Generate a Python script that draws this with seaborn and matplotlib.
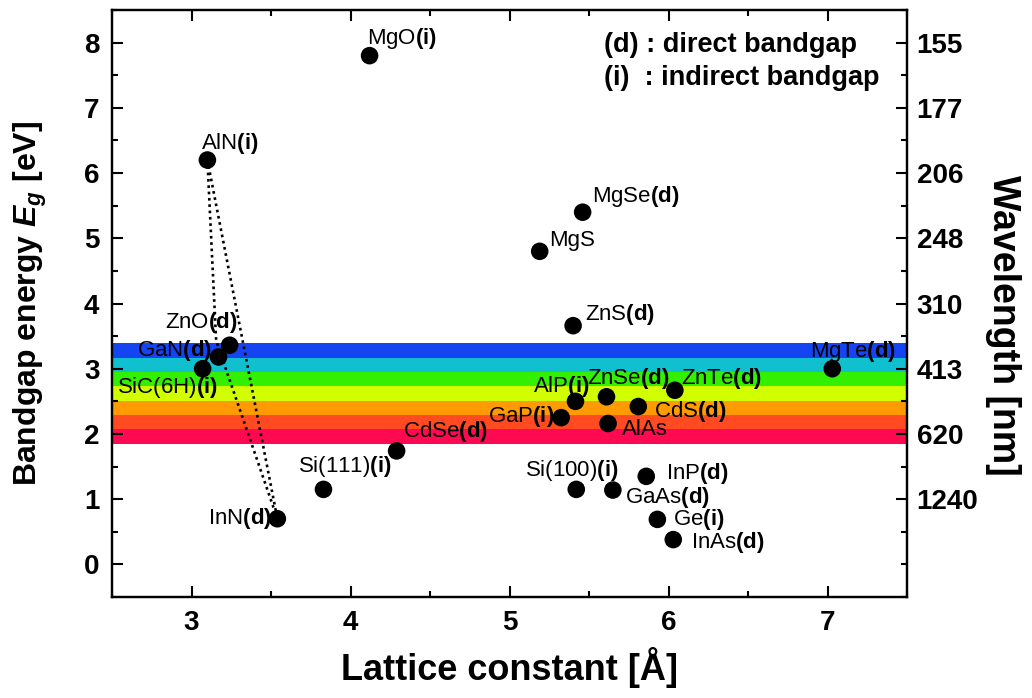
import numpy as np
import pandas as pd
import matplotlib
matplotlib.use("Agg")
import matplotlib.pyplot as plt
from matplotlib.ticker import MultipleLocator, FixedLocator
import seaborn as sns

# ---------------- data ----------------
materials = ["MgO", "AlN", "InN", "ZnO", "GaN", "SiC(6H)", "Si(111)", "CdSe",
             "MgS", "MgSe", "ZnS", "AlP", "ZnSe", "ZnTe", "CdS", "GaP", "AlAs",
             "MgTe", "Si(100)", "InP", "GaAs", "Ge", "InAs"]
gap_type = ["i", "i", "d", "d", "d", "i", "i", "d",
            "", "d", "d", "i", "d", "d", "d", "i", "",
            "d", "i", "d", "d", "i", "d"]
lattice = [4.12, 3.10, 3.54, 3.24, 3.17, 3.07, 3.83, 4.29,
           5.19, 5.46, 5.40, 5.415, 5.61, 6.04, 5.81, 5.325, 5.62,
           7.03, 5.42, 5.86, 5.65, 5.93, 6.03]
bandgap = [7.80, 6.20, 0.70, 3.36, 3.18, 3.00, 1.15, 1.74,
           4.80, 5.40, 3.66, 2.50, 2.57, 2.67, 2.42, 2.25, 2.16,
           3.00, 1.15, 1.35, 1.14, 0.69, 0.38]

# dotted tie lines (AlN -> InN)
tie_left_x = [3.10, 3.155, 3.54]
tie_left_y = [6.20, 3.43, 0.70]
tie_right_x = [3.10, 3.54]
tie_right_y = [6.20, 0.70]

# visible-spectrum colour bands (eV edges, top to bottom)
band_edges = [3.39, 3.17, 2.95, 2.73, 2.51, 2.29, 2.07, 1.85]
band_colors = ["#1545f2", "#10c0cf", "#33f000", "#d2ff00", "#ff9a00", "#ff4a22", "#ff0a52"]

# axis ticks
x_ticks = [3, 4, 5, 6, 7]
y_ticks = [0, 1, 2, 3, 4, 5, 6, 7, 8]
wl_energy = [1, 2, 3, 4, 5, 6, 7, 8]
wl_labels = ["1240", "620", "413", "310", "248", "206", "177", "155"]

# label offsets (points) and alignment, per material
label_off = {
    "MgO": (-1.5, 12, "left"), "AlN": (-4.8, 12, "left"), "InN": (-4, 0, "right"),
    "ZnO": (5.5, 16.5, "right"), "GaN": (-5, 4.8, "right"), "SiC(6H)": (11, -13.5, "right"),
    "Si(111)": (-18, 16.5, "left"), "CdSe": (4.3, 13.7, "left"), "MgS": (7, 8, "left"),
    "MgSe": (7, 11.5, "left"), "ZnS": (8.5, 8.4, "left"), "AlP": (10, 10.5, "right"),
    "ZnSe": (-14, 13, "left"), "ZnTe": (4.3, 8.4, "left"), "CdS": (11.5, -3.4, "left"),
    "GaP": (-5, 1, "right"), "AlAs": (9.8, -4.3, "left"), "MgTe": (-16, 12.7, "left"),
    "Si(100)": (-36.7, 13.7, "left"), "InP": (14.4, 2.4, "left"), "GaAs": (8.4, -5.2, "left"),
    "Ge": (11.3, 0, "left"), "InAs": (13, -2.4, "left"),
}

df = pd.DataFrame({"material": materials, "type": gap_type,
                   "lattice": lattice, "bandgap": bandgap})

# ---------------- style ----------------
sns.set_theme(style="ticks")
plt.rcParams["font.family"] = ["Liberation Sans", "DejaVu Sans"]
plt.rcParams["mathtext.fontset"] = "custom"
plt.rcParams["mathtext.rm"] = "Liberation Sans"
plt.rcParams["mathtext.bf"] = "Liberation Sans:bold"
plt.rcParams["mathtext.it"] = "Liberation Sans:italic:bold"
for k in ["text.color", "axes.labelcolor", "xtick.color", "ytick.color",
          "xtick.labelcolor", "ytick.labelcolor", "axes.edgecolor"]:
    plt.rcParams[k] = "black"

fig = plt.figure(figsize=(10.32, 6.98), dpi=100)
ax = fig.add_axes([112 / 1032, 1 - 597 / 698, 795 / 1032, 587 / 698])

# colour bands
for top, bot, c in zip(band_edges[:-1], band_edges[1:], band_colors):
    ax.axhspan(bot, top, color=c, lw=0, zorder=0)

# tie lines
ax.plot(tie_left_x, tie_left_y, color="black", lw=1.9, ls=(0, (1, 1.4)), zorder=2)
ax.plot(tie_right_x, tie_right_y, color="black", lw=1.9, ls=(0, (1, 1.4)), zorder=2)

sns.scatterplot(data=df, x="lattice", y="bandgap", ax=ax, color="black",
                s=160, edgecolor="none", zorder=3, legend=False)

for m, t, x, y in zip(materials, gap_type, lattice, bandgap):
    dx, dy, ha = label_off[m]
    txt = m + (r"$\mathbf{(" + t + ")}$" if t else "")
    ax.annotate(txt, (x, y), xytext=(dx, dy), textcoords="offset points",
                ha=ha, va="center", fontsize=16, color="black", zorder=4)

ax.text(0.619, 0.940, "(d) : direct bandgap", transform=ax.transAxes,
        fontsize=19.5, fontweight="bold", va="center", ha="left")
ax.text(0.619, 0.884, "(i)  : indirect bandgap", transform=ax.transAxes,
        fontsize=19.5, fontweight="bold", va="center", ha="left")

ax.set_xlim(2.5, 7.5)
ax.set_ylim(-0.5, 8.5)
ax.xaxis.set_major_locator(FixedLocator(x_ticks))
ax.yaxis.set_major_locator(FixedLocator(y_ticks))
ax.xaxis.set_minor_locator(MultipleLocator(0.5))
ax.yaxis.set_minor_locator(MultipleLocator(0.5))
ax.tick_params(which="both", direction="in", top=True, right=False, width=1.5, color="black")
ax.tick_params(which="major", length=8)
ax.tick_params(which="minor", length=4.5)
ax.tick_params(axis="y", which="major", pad=9, labelsize=20)
ax.tick_params(axis="x", which="major", pad=9, labelsize=20)
for lab in ax.get_xticklabels() + ax.get_yticklabels():
    lab.set_fontweight("bold")
for sp in ax.spines.values():
    sp.set_linewidth(1.6)
    sp.set_color("black")

ax.set_xlabel("Lattice constant [Å]", fontsize=26, fontweight="bold", labelpad=8)
ax.set_ylabel(r"Bandgap energy $E_g$ [eV]", fontsize=23, fontweight="bold", labelpad=25)

ax2 = ax.twinx()
ax2.set_ylim(ax.get_ylim())
ax2.yaxis.set_major_locator(FixedLocator(wl_energy))
ax2.set_yticklabels(wl_labels)
ax2.yaxis.set_minor_locator(MultipleLocator(0.5))
ax2.tick_params(which="both", direction="in", width=1.5, color="black")
ax2.tick_params(which="major", length=8, pad=7, labelsize=20)
ax2.tick_params(which="minor", length=4.5)
for lab in ax2.get_yticklabels():
    lab.set_fontweight("bold")
for sp in ax2.spines.values():
    sp.set_linewidth(1.6)
    sp.set_color("black")
ax2.set_ylabel("Wavelength [nm]", fontsize=27, fontweight="bold", rotation=270,
               va="bottom")
ax2.yaxis.set_label_coords(1.098, 0.463)

fig.savefig("out.png", dpi=100)
